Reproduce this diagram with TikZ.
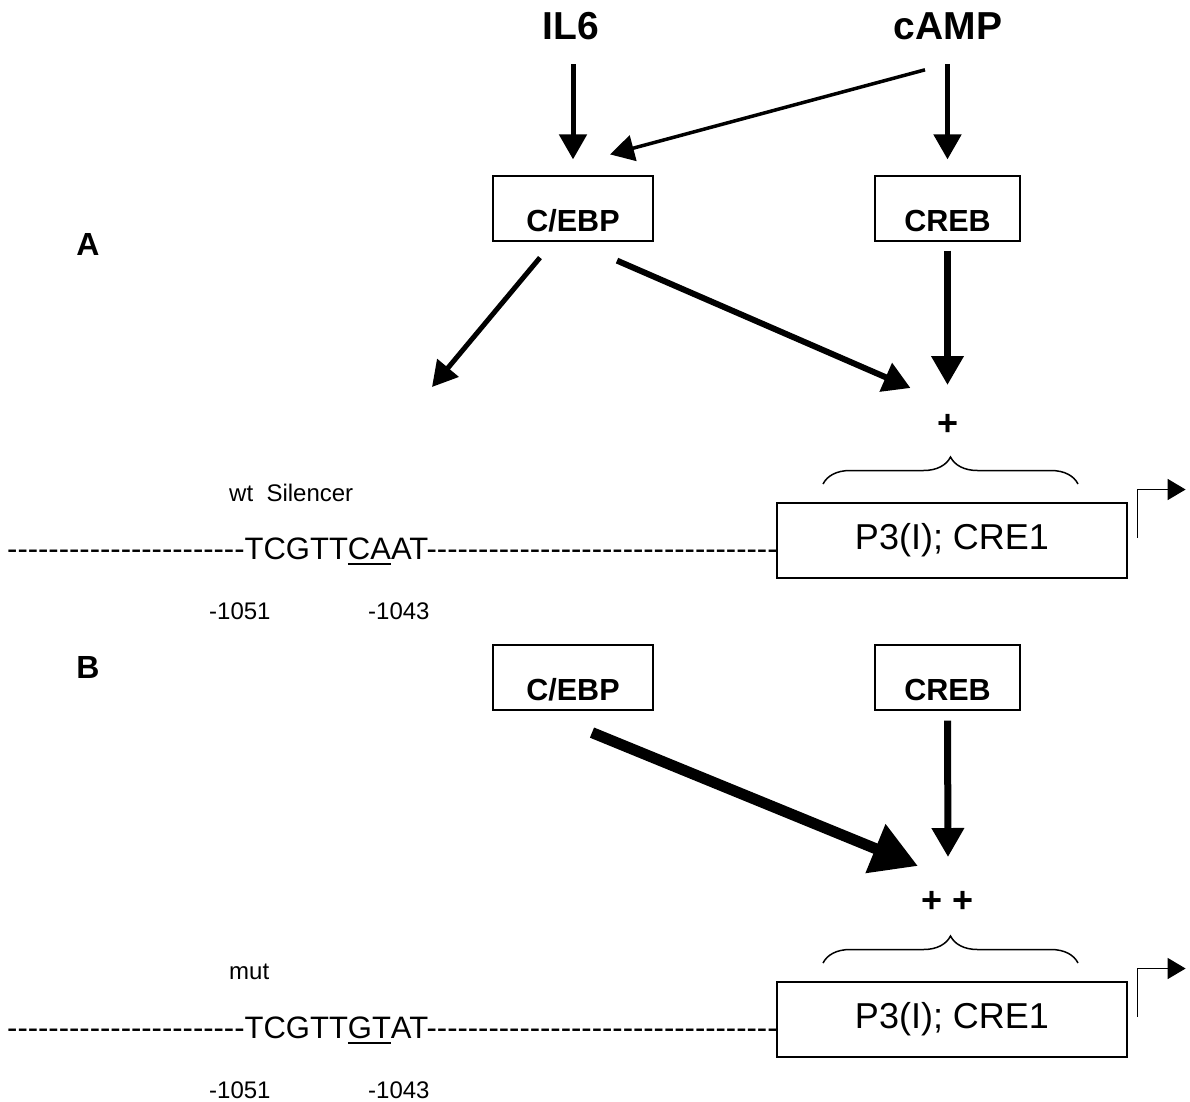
\documentclass[tikz,border=0pt]{standalone}
\usepackage{fontspec}
\setmainfont{Liberation Sans}
\usetikzlibrary{arrows.meta,decorations.pathreplacing}

% a run of plain hyphens (no dash ligatures)
\ExplSyntaxOn
\NewDocumentCommand{\dashes}{m}{\prg_replicate:nn{#1}{-{}}}
\ExplSyntaxOff

% thick underline below the exchanged bases
\newsavebox{\sitebox}
\newcommand{\mutsite}[1]{\sbox{\sitebox}{#1}\rlap{\rule[-6pt]{\wd\sitebox}{2.5pt}}\usebox{\sitebox}}

\begin{document}
\begin{tikzpicture}[x=1pt,y=-1pt,
  signal/.style={inner sep=0pt, font=\fontsize{39}{44}\selectfont\bfseries},
  panel/.style={inner sep=0pt, font=\fontsize{32}{36}\selectfont\bfseries},
  plus/.style={inner sep=0pt, font=\fontsize{36}{40}\selectfont\bfseries},
  small/.style={inner sep=0pt, font=\fontsize{24}{28}\selectfont},
  seq/.style={inner sep=0pt, font=\fontsize{31}{36}\selectfont},
  tfbox/.style={draw, line width=1.2pt, minimum height=65pt, text height=45pt,
    text depth=0pt, inner sep=0pt, font=\fontsize{30.5}{34}\selectfont\bfseries},
  probox/.style={draw, fill=white, line width=1.2pt, minimum width=350pt,
    minimum height=75pt, inner sep=0pt, font=\fontsize{36}{40}\selectfont},
  arrA/.style={line width=5pt, -{Triangle[length=25pt,width=27pt]}},
  arrThin/.style={line width=3.5pt, -{Triangle[length=24pt,width=26pt]}},
  arrM/.style={line width=6pt, -{Triangle[length=27pt,width=30pt]}},
  arrCreb/.style={line width=7pt, -{Triangle[length=29pt,width=31pt]}},
  arrBold/.style={line width=11pt, -{Triangle[length=46pt,width=50pt]}},
  brc/.style={decorate, decoration={brace, amplitude=27pt}, line width=1.5pt},
  tss/.style={line width=1.5pt, -{Triangle[length=18pt,width=21pt]}}]
  \useasboundingbox (0,0) rectangle (1190,1101);

  % signals
  \node[signal] (il6) at (571,26) {IL6};
  \node[signal] (camp) at (948,26) {cAMP};

  % panel A
  \node[panel] (labA) at (88,244) {A};
  \node[tfbox, minimum width=160pt] (cebpA) at (573,208.5) {C/EBP};
  \node[tfbox, minimum width=145pt] (crebA) at (947.5,208.5) {CREB};
  \node[plus] (plusA) at (947.5,425) {+};
  \coordinate (silA) at (432,387);

  \node[small, anchor=west] (wtA) at (229,493) {wt\ \ Silencer};
  \node[seq, anchor=base west] (seqA) at (7,559)
    {\dashes{23}TCGTT\mutsite{CA}AT\dashes{34}};
  \node[probox] (p3A) at (952,540.5) {P3(I); CRE1};
  \node[small, anchor=west] (posA1) at (209,611) {-1051};
  \node[small, anchor=west] (posA2) at (368,611) {-1043};
  \draw[brc] (823,484) -- (1078,484);
  \draw[tss] ([shift={(10,-3)}]p3A.east) |- ++(48,-48);

  \draw[arrA, shorten <=24pt, shorten >=16pt] (il6.south -| cebpA.north) -- (cebpA.north);
  \draw[arrA, shorten <=24pt, shorten >=16pt] (camp.south -| crebA.north) -- (crebA.north);
  \draw[arrThin] ([shift={(-23,30)}]camp.south) -- ([shift={(37,-21)}]cebpA.north);
  \draw[arrA] ([shift={(-33,16)}]cebpA.south) -- (silA);
  \draw[arrM] ([shift={(44,19)}]cebpA.south) -- ([shift={(-37,-37)}]plusA.center);
  \draw[arrCreb] ([shift={(0,9)}]crebA.south) -- ([shift={(0,-40)}]plusA.center);

  % panel B
  \node[panel] (labB) at (88,667) {B};
  \node[tfbox, minimum width=160pt] (cebpB) at (573,677.5) {C/EBP};
  \node[tfbox, minimum width=145pt] (crebB) at (947.5,677.5) {CREB};
  \node[plus] (plusB) at (948,902) {+ +};

  \node[small, anchor=west] (mutB) at (229,972) {mut};
  \node[seq, anchor=base west] (seqB) at (7,1038)
    {\dashes{23}TCGTT\mutsite{GT}AT\dashes{34}};
  \node[probox] (p3B) at (952,1019.5) {P3(I); CRE1};
  \node[small, anchor=west] (posB1) at (209,1090) {-1051};
  \node[small, anchor=west] (posB2) at (368,1090) {-1043};
  \draw[brc] (823,963) -- (1078,963);
  \draw[tss] ([shift={(10,-3)}]p3B.east) |- ++(48,-48);

  \draw[arrBold] ([shift={(19,22)}]cebpB.south) -- ([shift={(-30,-36)}]plusB.center);
  \draw[arrCreb] ([shift={(0,10)}]crebB.south) -- ([shift={(0,-45)}]plusB.center);
\end{tikzpicture}
\end{document}
